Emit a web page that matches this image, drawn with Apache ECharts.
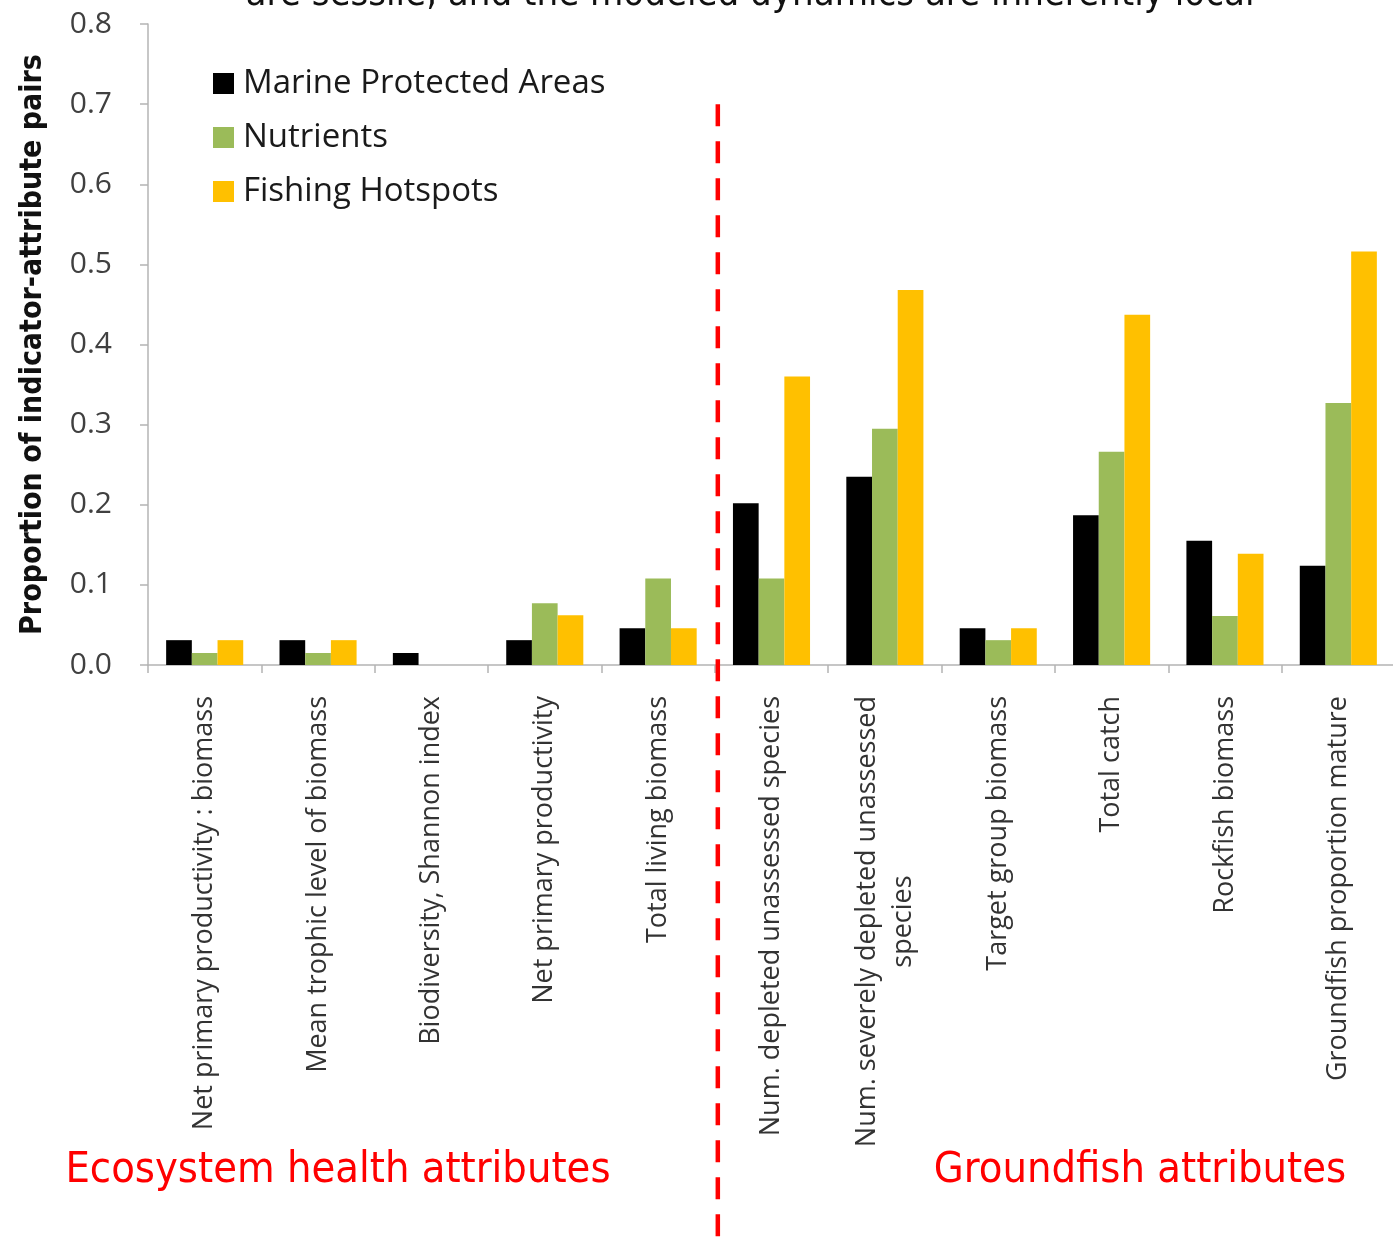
<!DOCTYPE html>
<html>
<head>
<meta charset="utf-8">
<style>
  html, body { margin: 0; padding: 0; background: #ffffff; }
  #chart { width: 1393px; height: 1239px; }
</style>
<script src="https://cdn.jsdelivr.net/npm/echarts@6/dist/echarts.min.js"></script>
</head>
<body>
<div id="chart"></div>
<script>
// Indicator attributes (x-axis categories)
const categories = [
  'Net primary productivity : biomass',
  'Mean trophic level of biomass',
  'Biodiversity, Shannon index',
  'Net primary productivity',
  'Total living biomass',
  'Num. depleted unassessed species',
  'Num. severely depleted unassessed\nspecies',
  'Target group biomass',
  'Total catch',
  'Rockfish biomass',
  'Groundfish proportion mature'
];

// Proportion of indicator-attribute pairs, per scenario
const mpaValues      = [0.031, 0.031, 0.015, 0.031, 0.046, 0.202, 0.235, 0.046, 0.187, 0.155, 0.124];
const nutrientValues = [0.015, 0.015, 0,     0.077, 0.108, 0.108, 0.295, 0.031, 0.266, 0.061, 0.327];
const fishingValues  = [0.031, 0.031, 0,     0.062, 0.046, 0.360, 0.468, 0.046, 0.437, 0.139, 0.516];

const seriesNames = ['Marine Protected Areas', 'Nutrients', 'Fishing Hotspots'];
const seriesColors = ['#000000', '#9bbb59', '#ffc000'];

const yTicks = { min: 0, max: 0.8, interval: 0.1 };

// Group split: ecosystem attributes are the first five categories
const groupSplitIndex = 5;
const groupLabels = ['Ecosystem health attributes', 'Groundfish attributes'];
const headerText = 'are sessile, and the modeled dynamics are inherently local';

const narrowFont = '"Liberation Sans Narrow", "DejaVu Sans Condensed", sans-serif';
const bodyFont = '"Open Sans", "Noto Sans", sans-serif';

const chart = echarts.init(document.getElementById('chart'), null, { renderer: 'canvas' });

const axisGray = '#b4b4b4';
const catFont = 27;

const option = {
  backgroundColor: '#ffffff',
  animation: false,
  grid: { left: 148, right: -2, top: 24, bottom: 574, containLabel: false, outerBoundsMode: 'none' },
  legend: {
    orient: 'vertical',
    left: 208,
    top: 62,
    itemWidth: 21,
    itemHeight: 21,
    itemGap: 21,
    icon: 'rect',
    textStyle: { fontFamily: bodyFont, fontSize: 33, color: '#1a1a1a', lineHeight: 33, padding: [0, 0, 0, 4] },
    data: seriesNames
  },
  xAxis: {
    type: 'category',
    data: categories,
    boundaryGap: true,
    axisLine: { lineStyle: { color: axisGray, width: 1.5 } },
    axisTick: { show: true, alignWithLabel: false, length: 8, lineStyle: { color: axisGray, width: 1.5 } },
    axisLabel: {
      interval: 0,
      rotate: 90,
      margin: 31,
      fontFamily: bodyFont,
      fontSize: catFont,
      color: '#333333',
      formatter: function (v) {
        if (v.indexOf('\n') >= 0) {
          const parts = v.split('\n');
          return '{a|' + parts[0] + '}\n{b|' + parts[1] + '}';
        }
        return v;
      },
      rich: {
        a: { fontFamily: bodyFont, fontSize: catFont, color: '#333333', lineHeight: 36 },
        b: { fontFamily: bodyFont, fontSize: catFont, color: '#333333', lineHeight: 36, align: 'center' }
      }
    }
  },
  yAxis: {
    type: 'value',
    min: yTicks.min,
    max: yTicks.max,
    interval: yTicks.interval,
    name: 'Proportion of indicator-attribute pairs',
    nameLocation: 'middle',
    nameGap: 100,
    nameRotate: 90,
    nameTextStyle: { fontFamily: narrowFont, fontWeight: 'bold', fontSize: 30, color: '#111111' },
    splitLine: { show: false },
    axisLine: { show: true, lineStyle: { color: axisGray, width: 1.5 } },
    axisTick: { show: true, length: 8, lineStyle: { color: axisGray, width: 1.5 } },
    axisLabel: {
      margin: 36,
      fontFamily: bodyFont,
      fontSize: 30,
      color: '#404040',
      formatter: function (v) { return v.toFixed(1); }
    }
  },
  series: [mpaValues, nutrientValues, fishingValues].map(function (vals, i) {
    return {
      name: seriesNames[i],
      type: 'bar',
      data: vals,
      barGap: '0%',
      barCategoryGap: '32%',
      itemStyle: { color: seriesColors[i] }
    };
  })
};

chart.setOption(option);

// Divider between the two attribute groups, plus group captions and header line
function placeAnnotations() {
  const xLeft = chart.convertToPixel({ xAxisIndex: 0 }, categories[groupSplitIndex - 1]);
  const xRight = chart.convertToPixel({ xAxisIndex: 0 }, categories[groupSplitIndex]);
  const xDiv = (xLeft + xRight) / 2 + 3;
  const yTop = chart.convertToPixel({ yAxisIndex: 0 }, 0.7);
  const h = chart.getHeight();
  chart.setOption({
    graphic: [
      {
        type: 'line',
        shape: { x1: xDiv, y1: yTop, x2: xDiv, y2: h },
        style: { stroke: '#ff0000', lineWidth: 4.5, lineDash: [22, 15] },
        z: 10
      },
      {
        type: 'text',
        x: 338, y: 1171,
        style: {
          text: groupLabels[0], fill: '#ff0000',
          font: '43px ' + narrowFont, textAlign: 'center', textVerticalAlign: 'middle'
        }
      },
      {
        type: 'text',
        x: 1140, y: 1171,
        style: {
          text: groupLabels[1], fill: '#ff0000',
          font: '43px ' + narrowFont, textAlign: 'center', textVerticalAlign: 'middle'
        }
      },
      {
        type: 'text',
        x: 750, y: 14,
        style: {
          text: headerText, fill: '#111111',
          font: '38px ' + narrowFont, textAlign: 'center', textVerticalAlign: 'bottom'
        }
      }
    ]
  });
}
placeAnnotations();
</script>
</body>
</html>
